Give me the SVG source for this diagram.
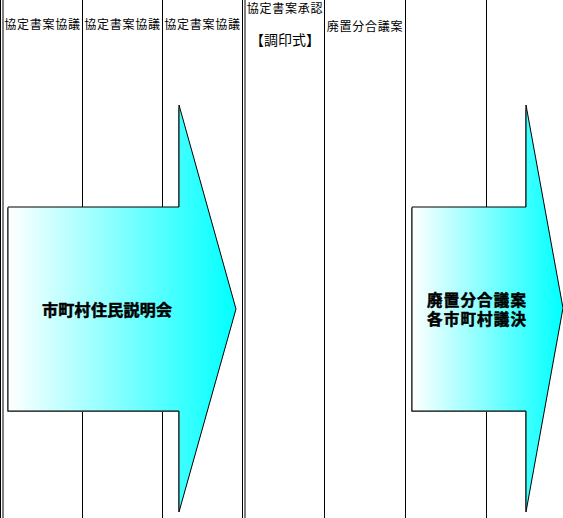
<svg xmlns="http://www.w3.org/2000/svg" width="563" height="518" viewBox="0 0 563 518">
  <style>
    .grid line { stroke: #000; stroke-width: 1; }
    .hdr { font-family: "Noto Sans CJK JP", "Noto Sans", sans-serif; font-size: 12px; letter-spacing: 0.75px; fill: #000; text-anchor: middle; }
    .lbl { font-family: "Noto Sans CJK JP", "Noto Sans", sans-serif; font-size: 16px; font-weight: bold; fill: #000; stroke: #000; stroke-width: 0.5; }
    .lbl2 { font-family: "Noto Sans CJK JP", "Noto Sans", sans-serif; font-size: 15.5px; font-weight: bold; fill: #000; stroke: #000; stroke-width: 0.5; letter-spacing: 1.2px; }
    .arrow { fill: url(#cyanGrad); stroke: #000; stroke-width: 1; }
    .shadow { fill: #808080; }
  </style>
  <defs>
    <linearGradient id="cyanGrad" x1="0" y1="0" x2="1" y2="0">
      <stop offset="0" stop-color="#FFFFFF"/>
      <stop offset="1" stop-color="#00FFFF"/>
    </linearGradient>
  </defs>
  <rect width="563" height="518" fill="#FFFFFF"/>
  <g id="grid" class="grid">
    <line x1="0.5" y1="0" x2="0.5" y2="518"/>
    <line x1="3" y1="0" x2="3" y2="518"/>
    <line x1="82.5" y1="0" x2="82.5" y2="518"/>
    <line x1="162.5" y1="0" x2="162.5" y2="518"/>
    <line x1="242.5" y1="0" x2="242.5" y2="518"/>
    <line x1="245" y1="0" x2="245" y2="518"/>
    <line x1="324.5" y1="0" x2="324.5" y2="518"/>
    <line x1="405.5" y1="0" x2="405.5" y2="518"/>
    <line x1="486.5" y1="0" x2="486.5" y2="518"/>
  </g>
  <g id="headers">
    <text class="hdr" x="42.5" y="28.5">協定書案協議</text>
    <text class="hdr" x="122.5" y="28.5">協定書案協議</text>
    <text class="hdr" x="202.5" y="28.5">協定書案協議</text>
    <text class="hdr" x="285" y="13">協定書案承認</text>
    <text class="hdr" x="285" y="45" style="font-size:14px;letter-spacing:0">【調印式】</text>
    <text class="hdr" x="365" y="31">廃置分合議案</text>
  </g>
  <g id="connectors"/>
  <g id="node-setsumeikai">
    <path class="shadow" d="M7,208 H178 V106 L235,310 L178,513 V412 H7 Z"/>
    <path class="arrow" d="M8,207 H179 V105 L236,309 L179,512 V411 H8 Z"/>
    <text class="lbl" x="42" y="316" style="letter-spacing:0.3px">市町村住民説明会</text>
  </g>
  <g id="node-gikketsu">
    <path class="shadow" d="M411,208 H525 V106 L562,309 L525,513 V412 H411 Z"/>
    <path class="arrow" d="M412,207 H526 V105 L563,308 L526,512 V411 H412 Z"/>
    <text class="lbl2"><tspan x="427" y="306">廃置分合議案</tspan><tspan x="427" y="325">各市町村議決</tspan></text>
  </g>
</svg>
